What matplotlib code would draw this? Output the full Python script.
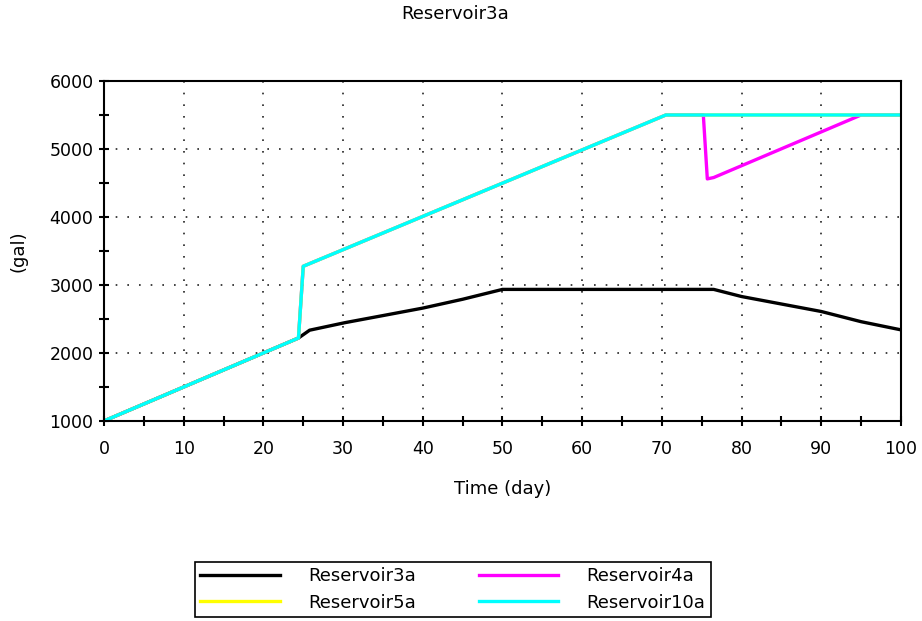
import numpy as np
import matplotlib
matplotlib.use("Agg")
import matplotlib.pyplot as plt

# values
days_3a = [0, 24.4, 25.8, 30.2, 35, 40, 45, 50, 76.5, 80, 85, 90, 95, 100]
gal_3a = [1000, 2220, 2335, 2445, 2550, 2660, 2790, 2935, 2935, 2830, 2720, 2610, 2460, 2340]

days_10a = [0, 24.4, 25.0, 70.5, 100]
gal_10a = [1000, 2220, 3275, 5500, 5500]

days_5a = days_10a
gal_5a = gal_10a

days_4a = [0, 24.4, 25.0, 70.5, 75.2, 75.7, 76.5, 95, 100]
gal_4a = [1000, 2220, 3275, 5500, 5500, 4560, 4580, 5500, 5500]

fig = plt.figure(figsize=(9.22, 6.21), dpi=100)
ax = fig.add_axes([0.1128, 0.3221, 0.8644, 0.5475])

l3, = ax.plot(days_3a, gal_3a, color='black', lw=2.4, label='Reservoir3a')
l4, = ax.plot(days_4a, gal_4a, color='#ff00ff', lw=2.4, label='Reservoir4a')
l5, = ax.plot(days_5a, gal_5a, color='#ffff00', lw=2.4, label='Reservoir5a')
l10, = ax.plot(days_10a, gal_10a, color='#00ffff', lw=2.4, label='Reservoir10a')

ax.set_xlim(0, 100)
ax.set_ylim(1000, 6000)
ax.set_xticks(np.arange(0, 101, 10))
ax.set_xticks(np.arange(0, 101, 5), minor=True)
ax.set_yticks(np.arange(1000, 6001, 1000))
ax.set_yticks(np.arange(1000, 6001, 500), minor=True)
ax.tick_params(which='both', direction='inout', width=1.5, length=7.2, labelsize=12.5)
ax.tick_params(axis='x', which='major', pad=10)
ax.tick_params(axis='y', which='major', pad=4)
ax.grid(True, which='major', color='#222222', linestyle=(0, (1, 6)), lw=1.2)
for s in ax.spines.values():
    s.set_linewidth(1.5)

ax.set_xlabel('Time (day)', fontsize=13, labelpad=16)
ax.set_ylabel('(gal)', fontsize=13, labelpad=16)
fig.text(0.4935, 0.9775, 'Reservoir3a', ha='center', va='center', fontsize=13)

leg = fig.legend([l3, l5, l4, l10], ['Reservoir3a', 'Reservoir5a', 'Reservoir4a', 'Reservoir10a'],
                 ncol=2, loc='upper left', bbox_to_anchor=(195 / 922, 1 - 562 / 621),
                 fancybox=False, edgecolor='black', framealpha=1,
                 handlelength=4.4, handletextpad=1.55, columnspacing=3.5, fontsize=13,
                 borderaxespad=0, labelspacing=0.45, borderpad=0.3)
leg.get_frame().set_linewidth(1.2)

fig.savefig('out.png', dpi=100)
